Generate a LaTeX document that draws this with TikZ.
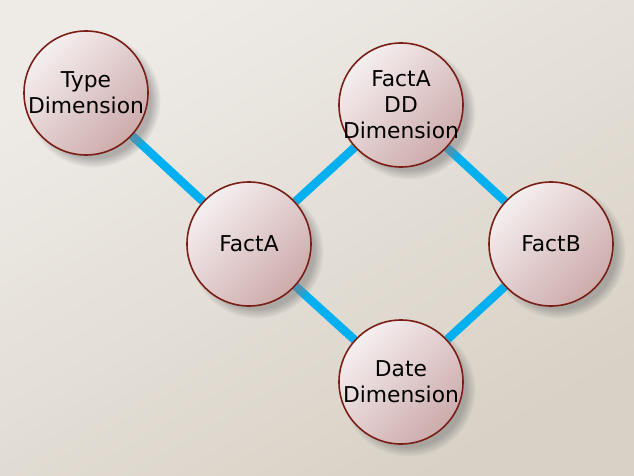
\documentclass[tikz,border=0pt]{standalone}
\usepackage{fontspec}
\setmainfont{DejaVu Sans}
\usetikzlibrary{shadows,backgrounds}

\definecolor{paperlight}{HTML}{EEEBE7}
\definecolor{paperdark}{HTML}{D8D1C5}
\definecolor{balllight}{HTML}{F5EFF0}
\definecolor{balldark}{HTML}{CDABAB}
\definecolor{ballrim}{HTML}{7A1E16}
\definecolor{linkblue}{HTML}{00B0F0}

\begin{document}
\begin{tikzpicture}[
  x=1pt,
  y=-1pt,
  line join=round,
  tablenode/.style={circle,draw=ballrim,line width=1.6pt,minimum size=124pt,inner sep=-20pt,
    shading=axis,top color=balllight,bottom color=balldark,shading angle=45,
    circular drop shadow={shadow xshift=7pt,shadow yshift=-7pt,opacity=0.55,shadow scale=1.08},
    align=center,font=\fontsize{21.8}{26}\selectfont},
  link/.style={draw=linkblue,line width=8.5pt}
]
  % Keep the original frame of 634 by 476 pixels.
  \useasboundingbox (0,0) rectangle (634,476);

  % Dimension and fact tables.
  \node[tablenode] (typedim) at (86,93) {Type\\Dimension};
  \node[tablenode] (factadd) at (401,105) {FactA\\DD\\Dimension};
  \node[tablenode] (facta) at (249,244) {FactA};
  \node[tablenode] (factb) at (551,244) {FactB};
  \node[tablenode] (datedim) at (401,382) {Date\\Dimension};

  \begin{scope}[on background layer]
    % Paper behind everything.
    \shade[shading=axis,top color=paperlight,bottom color=paperdark,shading angle=30]
      (0,0) rectangle (634,476);

    % Joins between the tables.
    \draw[link] (typedim) -- (facta);
    \draw[link] (facta) -- (factadd);
    \draw[link] (factadd) -- (factb);
    \draw[link] (facta) -- (datedim);
    \draw[link] (datedim) -- (factb);
  \end{scope}
\end{tikzpicture}
\end{document}
